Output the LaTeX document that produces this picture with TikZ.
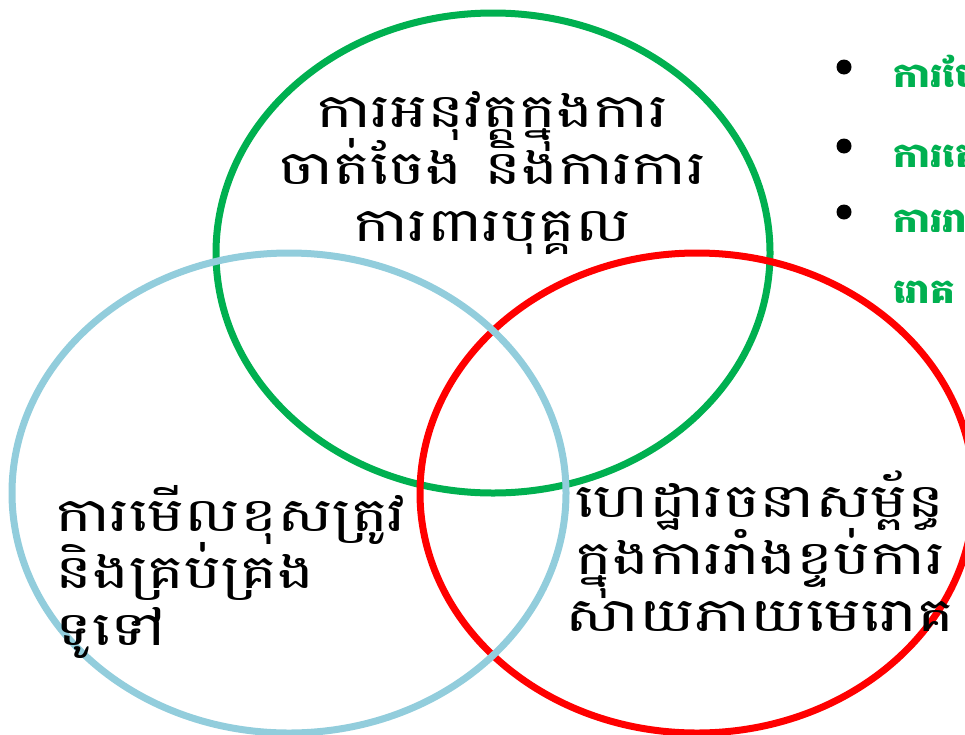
\documentclass[tikz,border=0pt]{standalone}
\usepackage{fontspec}
\newfontfamily\kh[Script=Khmer, FakeStretch=1.32]{Battambang}
\newfontfamily\khb[Script=Khmer, FakeStretch=1.15]{Battambang}
\newcommand\khbody{\kh\fontsize{47}{57}\selectfont\lineskiplimit=-100pt\relax\lineskip=0pt\relax}
\definecolor{ringgreen}{HTML}{00B050}
\definecolor{ringblue}{HTML}{92CDDC}
\definecolor{ringred}{HTML}{FF0000}
\tikzset{
  ring/.style={line width=7pt},
  body/.style={font=\khbody, inner sep=0pt},
  bul/.style={font=\khb\bfseries\fontsize{34}{40}\selectfont, text=ringgreen, anchor=base west, inner sep=0pt},
  dot/.style={circle, fill=black, minimum size=15pt, inner sep=0pt}
}
\begin{document}
\begin{tikzpicture}[x=1pt,y=-1pt]
\useasboundingbox (0,0) rectangle (965,734);
\begin{scope}
\clip (0,0) rectangle (965,734);
\draw[ring, ringgreen] (493,253) ellipse [x radius=277, y radius=240];
\draw[ring, ringred] (697,493) ellipse [x radius=277, y radius=240];
\draw[ring, ringblue] (289,493) ellipse [x radius=277, y radius=240];

\node[body, align=center] (top) at (492,173) {ការអនុវត្តក្នុងការ\\ចាត់ចែង និងការការ\\ការពារបុគ្គល};
\node[body, align=left, anchor=west] (left) at (55,572) {ការមើលខុសត្រូវ\\និងគ្រប់គ្រង\\ទូទៅ};
\node[body, align=center] (right) at (760,551) {ហេដ្ឋារចនាសម្ព័ន្ធ\\ក្នុងការរាំងខ្ទប់ការ\\សាយភាយមេរោគ};

\node[dot] (d1) at (844,67) {};
\node[dot] (d2) at (844,146) {};
\node[dot] (d3) at (844,212) {};
\node[bul] (b1) at (893,87) {ការថែទាំអ្នកជំងឺ};
\node[bul] (b2) at (893,167) {ការតេស្តរោគ};
\node[bul] (b3) at (893,232) {ការរាយការណ៍};
\node[bul] (b4) at (893,303) {រោគ};
\end{scope}
\end{tikzpicture}
\end{document}
